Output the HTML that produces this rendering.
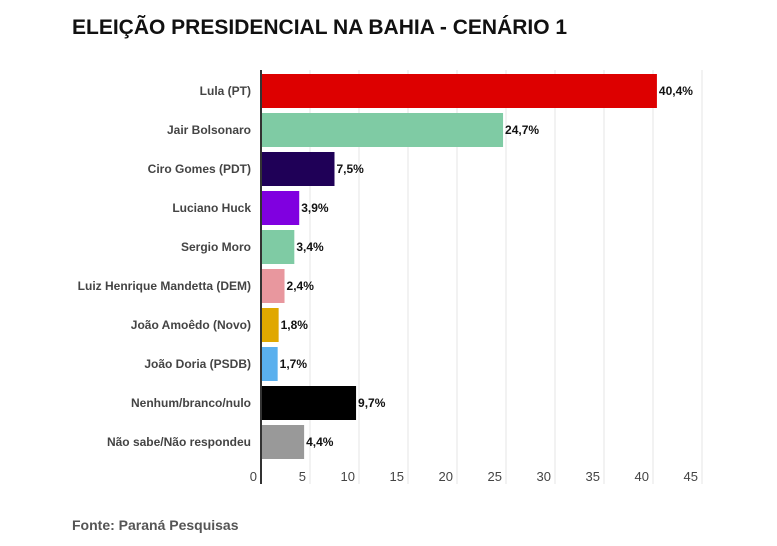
<!DOCTYPE html>
<html><head><meta charset="utf-8"><style>
body{margin:0;background:#fff;font-family:"Liberation Sans",sans-serif;}
svg text{font-family:"Liberation Sans",sans-serif;}
</style></head><body>
<svg width="777" height="541">
<text x="72" y="34" font-size="21" font-weight="bold" fill="#111">ELEIÇÃO PRESIDENCIAL NA BAHIA - CENÁRIO 1</text>
<g id="grid"></g><g id="bars"></g>
<line x1="261" y1="70" x2="261" y2="484" stroke="#333" stroke-width="2"/>
<text x="72" y="530" font-size="14" font-weight="bold" fill="#555">Fonte: Paraná Pesquisas</text>
</svg>
<script>
const categories=["Lula (PT)","Jair Bolsonaro","Ciro Gomes (PDT)","Luciano Huck","Sergio Moro","Luiz Henrique Mandetta (DEM)","João Amoêdo (Novo)","João Doria (PSDB)","Nenhum/branco/nulo","Não sabe/Não respondeu"];
const values=[40.4,24.7,7.5,3.9,3.4,2.4,1.8,1.7,9.7,4.4];
const colors=["#dd0000","#7fcba4","#1f0057","#8000e0","#7fcba4","#e8979e","#e0a800","#5ab0ee","#000000","#999999"];
const ticks=[0,5,10,15,20,25,30,35,40,45];
const NS="http://www.w3.org/2000/svg";
const x=v=>261+v*9.8;
const yc=i=>91+i*39;
const g=document.getElementById('grid'),b=document.getElementById('bars');
function mk(t,a,p){const e=document.createElementNS(NS,t);for(const k in a)e.setAttribute(k,a[k]);p.appendChild(e);return e;}
ticks.forEach(t=>{
 if(t>0){const l=mk('line',{x1:x(t),x2:x(t),y1:70,y2:484,stroke:'#e6e6e6'},g);
 
 }
 const tx=mk('text',{x:x(t)-4,y:481,'text-anchor':'end','font-size':13,fill:'#444'},g);
 tx.textContent=t;
 
 
});
categories.forEach((c,i)=>{
 const r=mk('rect',{x:261,y:yc(i)-17,width:x(values[i])-261,height:34,fill:colors[i]},b);
 
 
 const lb=mk('text',{x:251,y:yc(i)+4,'text-anchor':'end','font-size':12,'font-weight':'bold',fill:'#444'},b);
 lb.textContent=c;
 
 
 const vl=mk('text',{x:x(values[i])+2,y:yc(i)+4,'font-size':12,'font-weight':'bold',fill:'#111'},b);
 vl.textContent=values[i].toFixed(1).replace('.',',')+'%';
 
 
});
</script>
</body></html>
